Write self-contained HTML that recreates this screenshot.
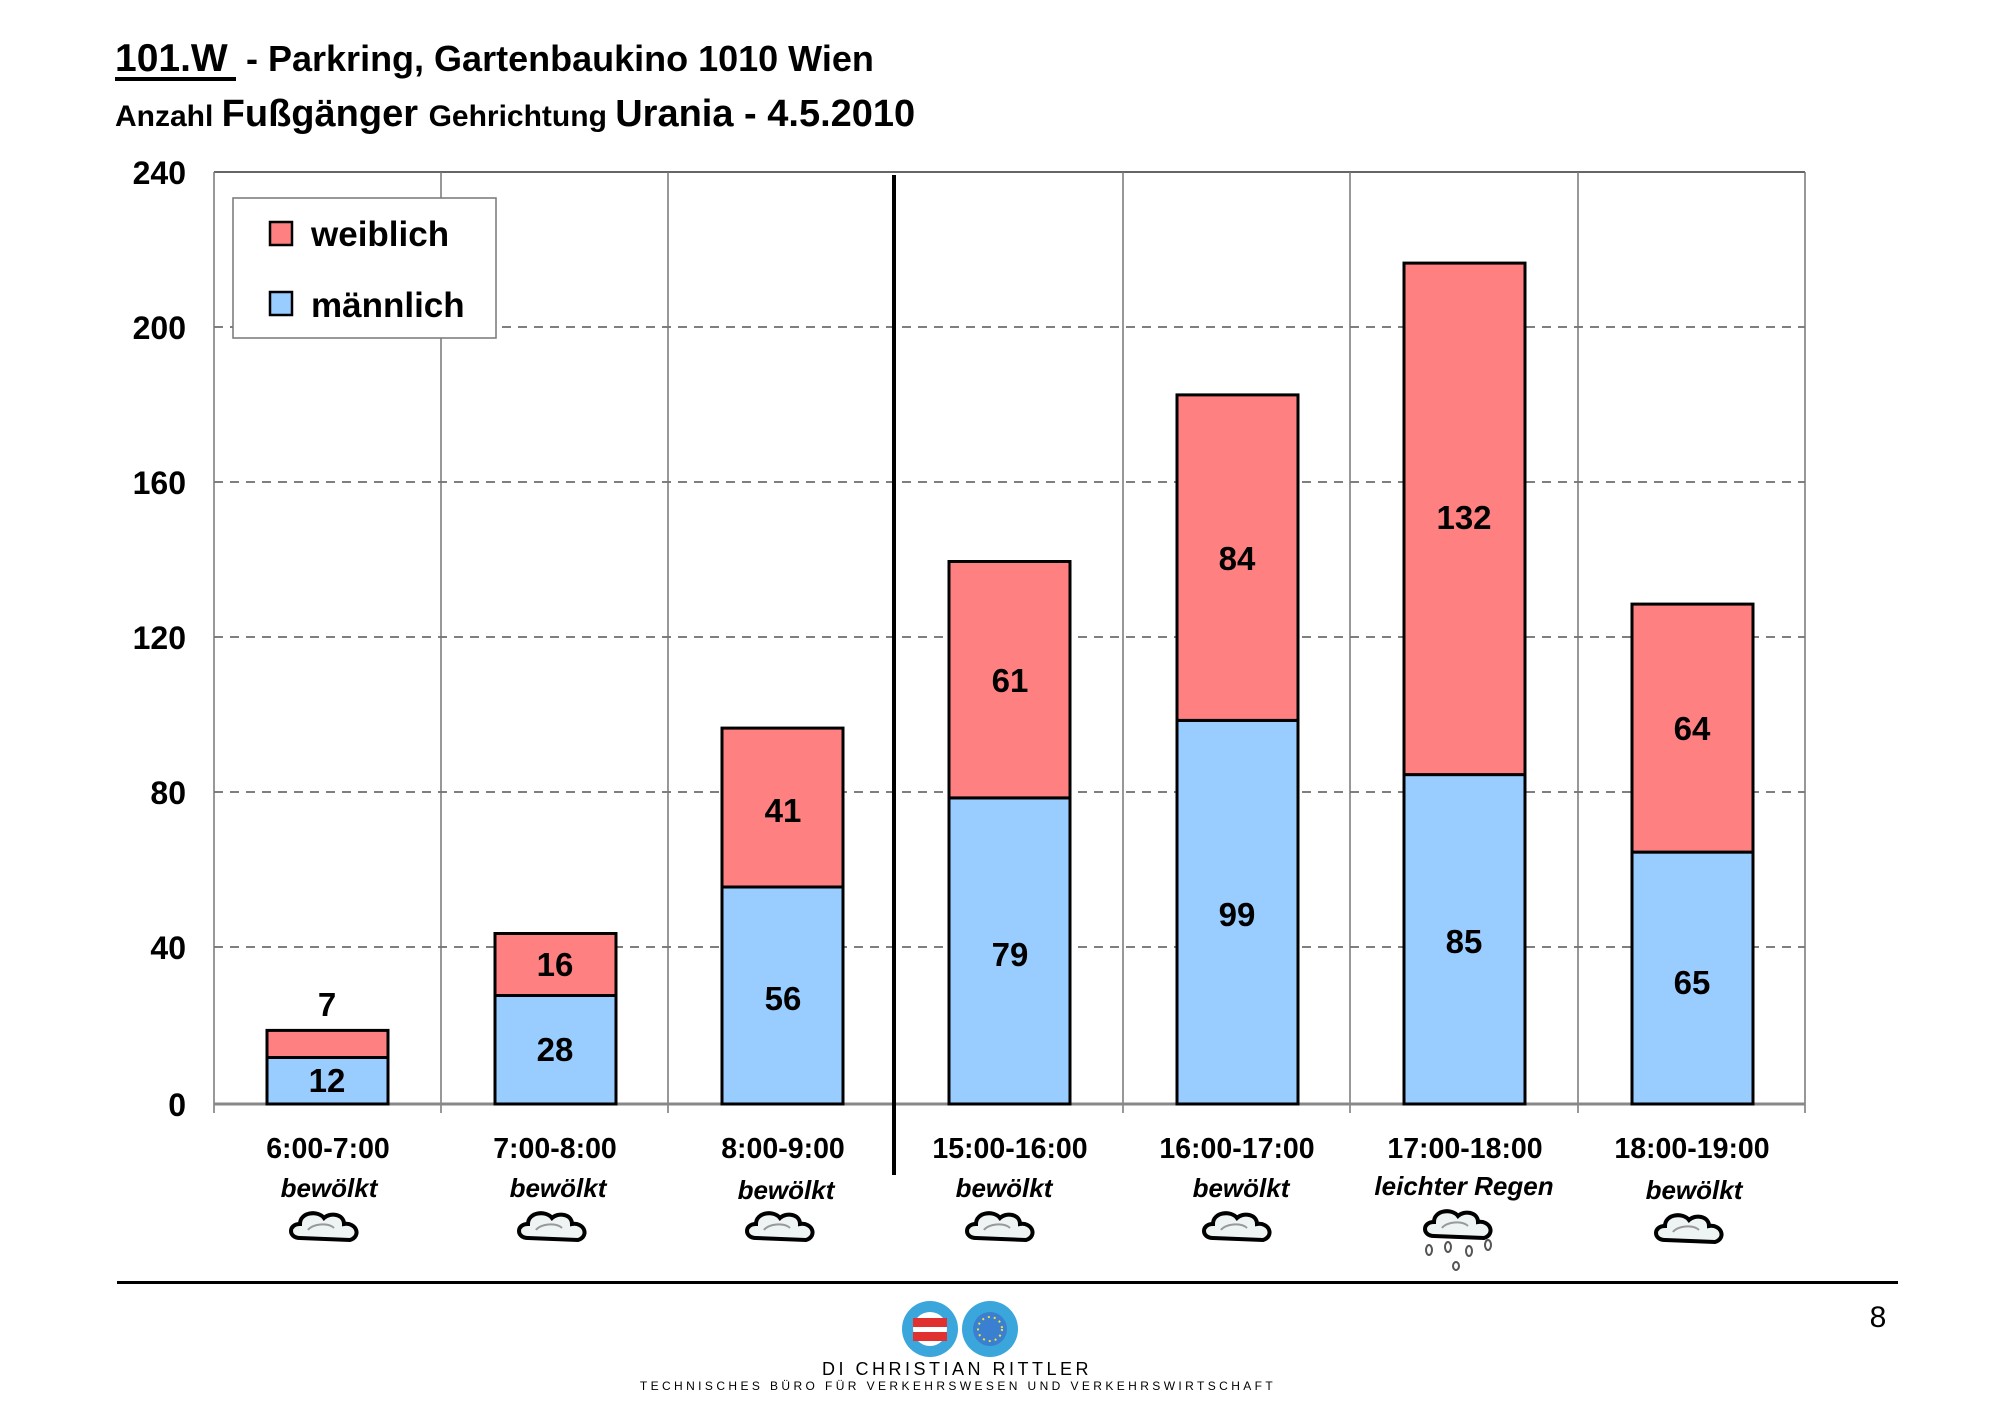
<!DOCTYPE html>
<html><head><meta charset="utf-8"><style>
html,body{margin:0;padding:0;background:#fff;}
svg{display:block;font-family:"Liberation Sans",Arial,sans-serif;}
</style></head><body>
<svg width="2000" height="1414" viewBox="0 0 2000 1414" xmlns="http://www.w3.org/2000/svg">
<defs>
<g id="cloud">
<path d="M-28,8 C-40,8 -40,-6 -28,-6 C-28,-18 -10,-20 -4,-12 C2,-18 16,-16 16,-6 C28,-8 34,6 22,10 Z" fill="#eef3f3" stroke="#000" stroke-width="4"/>
<path d="M-20,0 C-16,-6 0,-8 6,-2" fill="none" stroke="#999" stroke-width="2"/>
</g>
</defs>
<!-- title -->
<text x="115" y="71" font-size="39" font-weight="bold">101.W</text>
<rect x="115" y="77" width="121" height="4" fill="#000"/>
<text x="246" y="71" font-size="36" font-weight="bold">- Parkring, Gartenbaukino 1010 Wien</text>
<text x="115" y="126" font-weight="bold"><tspan font-size="30">Anzahl </tspan><tspan font-size="38">Fußgänger </tspan><tspan font-size="30">Gehrichtung </tspan><tspan font-size="38">Urania - 4.5.2010</tspan></text>

<!-- grid -->
<g stroke="#555" stroke-width="1.5" stroke-dasharray="9,7">
<line x1="214" y1="327" x2="1805" y2="327"/>
<line x1="214" y1="482" x2="1805" y2="482"/>
<line x1="214" y1="637" x2="1805" y2="637"/>
<line x1="214" y1="792" x2="1805" y2="792"/>
<line x1="214" y1="947" x2="1805" y2="947"/>
</g>
<line x1="214" y1="172" x2="1805" y2="172" stroke="#333" stroke-width="1.5"/>
<g stroke="#777" stroke-width="1.5">
<line x1="214" y1="172" x2="214" y2="1113"/>
<line x1="441" y1="172" x2="441" y2="1113"/>
<line x1="668" y1="172" x2="668" y2="1113"/>
<line x1="1123" y1="172" x2="1123" y2="1113"/>
<line x1="1350" y1="172" x2="1350" y2="1113"/>
<line x1="1578" y1="172" x2="1578" y2="1113"/>
<line x1="1805" y1="172" x2="1805" y2="1113"/>
</g>
<line x1="214" y1="1104" x2="1805" y2="1104" stroke="#888" stroke-width="3"/>

<!-- y labels -->
<g font-size="32" font-weight="bold" text-anchor="end">
<text x="186" y="184">240</text>
<text x="186" y="339">200</text>
<text x="186" y="494">160</text>
<text x="186" y="649">120</text>
<text x="186" y="804">80</text>
<text x="186" y="959">40</text>
<text x="186" y="1116">0</text>
</g>

<!-- bars -->
<g stroke="#000" stroke-width="3">
<rect x="267" y="1057.5" width="121" height="46.5" fill="#99ccff"/>
<rect x="267" y="1030.4" width="121" height="27.1" fill="#ff8080"/>
<rect x="495" y="995.5" width="121" height="108.5" fill="#99ccff"/>
<rect x="495" y="933.5" width="121" height="62" fill="#ff8080"/>
<rect x="722" y="887" width="121" height="217" fill="#99ccff"/>
<rect x="722" y="728.1" width="121" height="158.9" fill="#ff8080"/>
<rect x="949" y="797.9" width="121" height="306.1" fill="#99ccff"/>
<rect x="949" y="561.5" width="121" height="236.4" fill="#ff8080"/>
<rect x="1177" y="720.4" width="121" height="383.6" fill="#99ccff"/>
<rect x="1177" y="394.9" width="121" height="325.5" fill="#ff8080"/>
<rect x="1404" y="774.6" width="121" height="329.4" fill="#99ccff"/>
<rect x="1404" y="263.1" width="121" height="511.5" fill="#ff8080"/>
<rect x="1632" y="852.1" width="121" height="251.9" fill="#99ccff"/>
<rect x="1632" y="604.1" width="121" height="248" fill="#ff8080"/>
</g>

<!-- value labels -->
<g font-size="33" font-weight="bold" text-anchor="middle">
<text x="327" y="1092">12</text>
<text x="327" y="1016">7</text>
<text x="555" y="1061">28</text>
<text x="555" y="976">16</text>
<text x="783" y="1010">56</text>
<text x="783" y="822">41</text>
<text x="1010" y="966">79</text>
<text x="1010" y="692">61</text>
<text x="1237" y="926">99</text>
<text x="1237" y="570">84</text>
<text x="1464" y="953">85</text>
<text x="1464" y="529">132</text>
<text x="1692" y="994">65</text>
<text x="1692" y="740">64</text>
</g>

<!-- divider -->
<line x1="894" y1="175" x2="894" y2="1175" stroke="#000" stroke-width="4"/>

<!-- legend -->
<rect x="233" y="198" width="263" height="140" fill="#fff" stroke="#777" stroke-width="1.5"/>
<rect x="270" y="222" width="22" height="23" fill="#ff8080" stroke="#000" stroke-width="2.5"/>
<text x="311" y="246" font-size="35" font-weight="bold">weiblich</text>
<rect x="270" y="292" width="22" height="23" fill="#99ccff" stroke="#000" stroke-width="2.5"/>
<text x="311" y="317" font-size="35" font-weight="bold">männlich</text>

<!-- category labels -->
<g font-size="28.5" font-weight="bold" text-anchor="middle">
<text x="328" y="1158">6:00-7:00</text>
<text x="555" y="1158">7:00-8:00</text>
<text x="783" y="1158">8:00-9:00</text>
<text x="1010" y="1158">15:00-16:00</text>
<text x="1237" y="1158">16:00-17:00</text>
<text x="1465" y="1158">17:00-18:00</text>
<text x="1692" y="1158">18:00-19:00</text>
</g>
<g font-size="26" font-weight="bold" font-style="italic" text-anchor="middle">
<text x="329" y="1197">bewölkt</text>
<text x="558" y="1197">bewölkt</text>
<text x="786" y="1199">bewölkt</text>
<text x="1004" y="1197">bewölkt</text>
<text x="1241" y="1197">bewölkt</text>
<text x="1464" y="1195">leichter Regen</text>
<text x="1694" y="1199">bewölkt</text>
</g>
<use href="#cloud" x="328" y="1230"/>
<use href="#cloud" x="556" y="1230"/>
<use href="#cloud" x="784" y="1230"/>
<use href="#cloud" x="1004" y="1230"/>
<use href="#cloud" x="1241" y="1230"/>
<use href="#cloud" x="1462" y="1228"/>
<use href="#cloud" x="1693" y="1232"/>
<g fill="#fff" stroke="#555" stroke-width="2">
<ellipse cx="1429" cy="1250" rx="3" ry="5"/>
<ellipse cx="1448" cy="1247" rx="3" ry="5"/>
<ellipse cx="1469" cy="1251" rx="3" ry="5"/>
<ellipse cx="1488" cy="1245" rx="3" ry="5"/>
<ellipse cx="1456" cy="1266" rx="3" ry="4"/>
</g>

<!-- footer -->
<rect x="117" y="1281" width="1781" height="3" fill="#000"/>
<text x="1878" y="1327" font-size="30" text-anchor="middle">8</text>
<circle cx="930" cy="1329" r="28" fill="#3aa6dc"/>
<circle cx="930" cy="1329" r="17" fill="#fff"/>
<rect x="913" y="1318" width="34" height="9" fill="#e03030"/>
<rect x="913" y="1332" width="34" height="9" fill="#e03030"/>
<circle cx="990" cy="1329" r="28" fill="#3aa6dc"/>
<circle cx="990" cy="1329" r="17" fill="#3a7fd0"/>
<circle cx="990" cy="1329" r="12" fill="none" stroke="#f0e040" stroke-width="2" stroke-dasharray="2,4"/>
<text x="957" y="1375" font-size="18" text-anchor="middle" letter-spacing="3.5">DI CHRISTIAN RITTLER</text>
<text x="958" y="1390" font-size="12" text-anchor="middle" letter-spacing="3.4">TECHNISCHES BÜRO FÜR VERKEHRSWESEN UND VERKEHRSWIRTSCHAFT</text>
</svg>
</body></html>
